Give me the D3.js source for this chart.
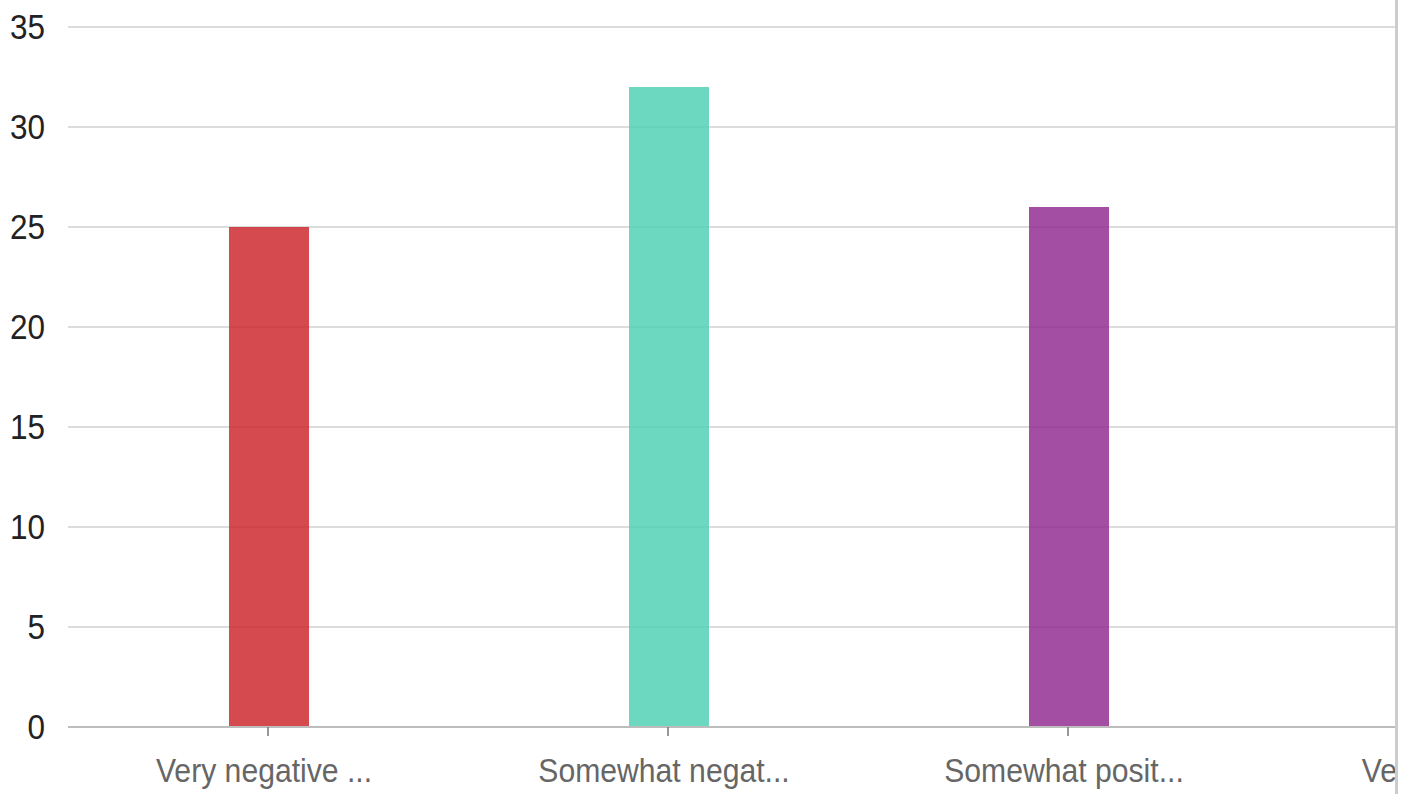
<!DOCTYPE html>
<html>
<head>
<meta charset="utf-8">
<script src="https://cdn.jsdelivr.net/npm/d3@7"></script>
<style>
  html, body { margin: 0; padding: 0; background: #fff; overflow: hidden; }
  svg { display: block; }
</style>
</head>
<body>
<svg id="chart" width="1414" height="794"></svg>
<script>
const categories = ["Very negative ...", "Somewhat negat...", "Somewhat posit...", "Very positive ..."];
const values = [25, 32, 26, 17];
const barColors = ["rgb(206,42,47)", "rgb(82,209,181)", "rgb(147,47,146)", "rgb(240,160,40)"];
const yTicks = [0, 5, 10, 15, 20, 25, 30, 35];

const svg = d3.select("#chart");
const plotLeft = 68, plotRight = 1396, yTop = 27, yBottom = 727;

const x = d3.scaleBand().domain(categories).range([69, 1669]).paddingInner(0.8).paddingOuter(0.4);
const y = d3.scaleLinear().domain([0, 35]).range([yBottom, yTop]);

svg.append("defs").append("clipPath").attr("id", "clip")
  .append("rect").attr("x", 0).attr("y", 0).attr("width", plotRight).attr("height", 794);

const g = svg.append("g").attr("clip-path", "url(#clip)");

// gridlines
g.selectAll("line.grid").data(yTicks.filter(d => d !== 0)).join("line")
  .attr("class", "grid")
  .attr("x1", plotLeft).attr("x2", plotRight)
  .attr("y1", d => y(d)).attr("y2", d => y(d))
  .attr("stroke", "#dcdcdc").attr("stroke-width", 2);

// bars
g.selectAll("rect.bar").data(categories).join("rect")
  .attr("class", "bar")
  .attr("x", d => x(d))
  .attr("width", x.bandwidth())
  .attr("y", (d, i) => y(values[i]))
  .attr("height", (d, i) => y(0) - y(values[i]))
  .attr("fill", (d, i) => barColors[i])
  .attr("fill-opacity", 0.85);

// baseline axis
g.append("line")
  .attr("x1", plotLeft).attr("x2", plotRight)
  .attr("y1", y(0)).attr("y2", y(0))
  .attr("stroke", "#bdbdbd").attr("stroke-width", 2);

// ticks
g.selectAll("line.tick").data(categories).join("line")
  .attr("class", "tick")
  .attr("x1", d => x(d) + x.bandwidth() / 2 - 1).attr("x2", d => x(d) + x.bandwidth() / 2 - 1)
  .attr("y1", y(0)).attr("y2", y(0) + 9)
  .attr("stroke", "#777").attr("stroke-width", 1.5);

// x labels
g.selectAll("text.xl").data(categories).join("text")
  .attr("class", "xl")
  .attr("transform", d => `translate(${x(d) + x.bandwidth() / 2 - 5},782) scale(0.9,1)`)
  .attr("text-anchor", "middle")
  .attr("font-family", "'Liberation Sans', Arial, sans-serif")
  .attr("font-size", 33.5)
  .attr("fill", "#666")
  .text(d => d);

// y labels
svg.selectAll("text.yl").data(yTicks).join("text")
  .attr("class", "yl")
  .attr("transform", d => `translate(45,${y(d) + 11.5}) scale(0.9,1)`)
  .attr("text-anchor", "end")
  .attr("font-family", "'Liberation Sans', Arial, sans-serif")
  .attr("font-size", 35)
  .attr("fill", "#222")
  .text(d => d);

// right border line
svg.append("line")
  .attr("x1", 1396.5).attr("x2", 1396.5)
  .attr("y1", 0).attr("y2", 794)
  .attr("stroke", "#cccccc").attr("stroke-width", 3);
</script>
</body>
</html>
